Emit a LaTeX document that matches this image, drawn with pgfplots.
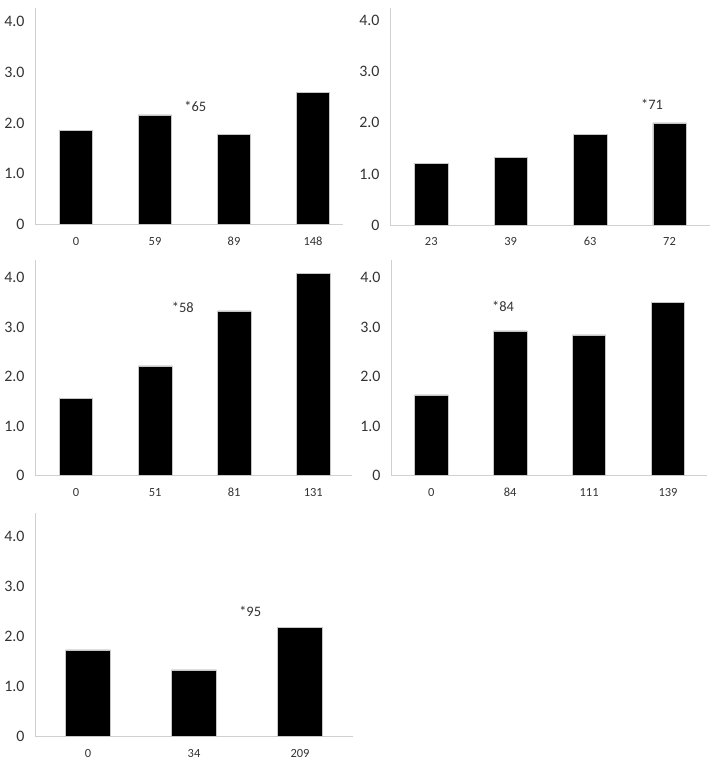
\documentclass[border=0pt]{standalone}
\usepackage{pgfplots}
\pgfplotsset{compat=1.18}
\usepackage{fontspec}
\setmainfont{Carlito}
\definecolor{tickc}{HTML}{333333}
\definecolor{axc}{HTML}{D0D0D0}
\tikzset{note/.style={font=\fontsize{14.5}{14.5}\selectfont, text=tickc, inner sep=0pt},
  barsty/.style={fill=black, draw=gray!45, line width=0.5bp}}
\pgfplotsset{
  panel/.style={
    scale only axis,
    anchor=south west,
    ybar, bar width=0.42, bar shift=0pt,
    ymin=0,
    axis x line=bottom, axis y line=left,
    axis line style={draw=axc, line width=0.9bp, -},
    major tick length=0pt,
    ytick={0,1,2,3,4}, yticklabels={0,1.0,2.0,3.0,4.0},
    yticklabel style={font=\fontsize{16}{16}\selectfont, text=tickc, anchor=east, xshift=-7bp},
    xticklabel style={font=\fontsize{12.5}{12.5}\selectfont, text=tickc, anchor=north, yshift=-9bp},
    xtick=data,
    clip=false,
  },
}
\begin{document}
\begin{tikzpicture}[x=1bp,y=1bp]
\path (0,0) rectangle (714,762);
% Panel 1
\begin{axis}[panel, at={(35bp,537.5bp)}, width=308bp, height=216.5bp,
  xmin=-0.52, xmax=3.38, ymax=4.27, xticklabels={0,59,89,148}]
\addplot[barsty] coordinates {(0,1.86) (1,2.16) (2,1.78) (3,2.60)};
\node[note] at (axis cs:1.51,2.32) {*65};
\end{axis}
% Panel 2
\begin{axis}[panel, at={(390bp,537bp)}, width=320bp, height=217bp,
  xmin=-0.52, xmax=3.51, ymax=4.25, xticklabels={23,39,63,72}]
\addplot[barsty] coordinates {(0,1.21) (1,1.33) (2,1.77) (3,2.00)};
\node[note] at (axis cs:2.78,2.37) {*71};
\end{axis}
% Panel 3
\begin{axis}[panel, at={(35bp,286.3bp)}, width=317bp, height=215.7bp,
  xmin=-0.52, xmax=3.49, ymax=4.36, xticklabels={0,51,81,131}]
\addplot[barsty] coordinates {(0,1.56) (1,2.22) (2,3.33) (3,4.09)};
\node[note] at (axis cs:1.35,3.41) {*58};
\end{axis}
% Panel 4
\begin{axis}[panel, at={(391bp,286.3bp)}, width=315.7bp, height=215.7bp,
  xmin=-0.51, xmax=3.49, ymax=4.35, xticklabels={0,84,111,139}]
\addplot[barsty] coordinates {(0,1.63) (1,2.92) (2,2.84) (3,3.49)};
\node[note] at (axis cs:0.91,3.41) {*84};
\end{axis}
% Panel 5
\begin{axis}[panel, at={(35bp,25.5bp)}, width=318bp, height=223.5bp,
  xmin=-0.5, xmax=2.5, ymax=4.47, xticklabels={0,34,209}]
\addplot[barsty] coordinates {(0,1.73) (1,1.33) (2,2.18)};
\node[note] at (axis cs:1.53,2.50) {*95};
\end{axis}
\end{tikzpicture}
\end{document}
